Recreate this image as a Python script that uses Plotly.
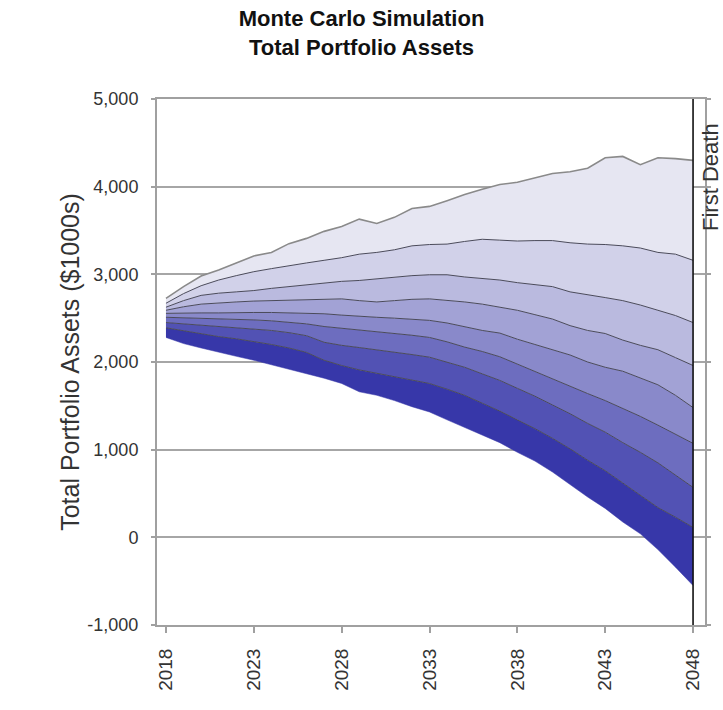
import plotly.graph_objects as go

years = list(range(2018, 2049))

# Percentile paths of simulated portfolio assets ($1000s), highest to lowest
p_top = [2725, 2860, 2980, 3050, 3130, 3210, 3250, 3350, 3410, 3490, 3545, 3630, 3580, 3650, 3750, 3775,
         3840, 3910, 3970, 4025, 4050, 4100, 4150, 4170, 4210, 4330, 4345, 4250, 4330, 4320, 4300]
p_2 = [2670, 2780, 2870, 2935, 2985, 3030, 3065, 3100, 3130, 3160, 3190, 3230, 3250, 3280, 3325, 3340,
       3345, 3375, 3400, 3390, 3380, 3385, 3385, 3360, 3345, 3340, 3325, 3300, 3250, 3230, 3160]
p_3 = [2625, 2700, 2760, 2785, 2800, 2815, 2840, 2860, 2885, 2905, 2920, 2930, 2950, 2965, 2985, 2995,
       2995, 2970, 2950, 2935, 2905, 2885, 2860, 2800, 2770, 2735, 2700, 2650, 2590, 2530, 2450]
p_4 = [2590, 2630, 2660, 2675, 2685, 2695, 2700, 2710, 2715, 2715, 2720, 2700, 2685, 2700, 2715, 2720,
       2705, 2685, 2660, 2625, 2590, 2540, 2490, 2415, 2360, 2325, 2250, 2190, 2140, 2050, 1960]
p_5 = [2555, 2560, 2560, 2560, 2565, 2565, 2565, 2560, 2555, 2550, 2535, 2520, 2510, 2500, 2485, 2475,
       2445, 2400, 2360, 2330, 2260, 2200, 2140, 2080, 2000, 1940, 1895, 1820, 1740, 1620, 1480]
p_6 = [2510, 2505, 2500, 2495, 2490, 2480, 2470, 2455, 2435, 2405, 2385, 2370, 2345, 2330, 2305, 2280,
       2230, 2170, 2120, 2060, 1975, 1890, 1810, 1720, 1640, 1560, 1470, 1380, 1280, 1180, 1072]
p_7 = [2450, 2435, 2420, 2410, 2395, 2380, 2360, 2335, 2300, 2225, 2190, 2165, 2140, 2115, 2085, 2055,
       2000, 1940, 1865, 1790, 1700, 1610, 1510, 1410, 1300, 1200, 1080, 970, 850, 710, 570]
p_8 = [2390, 2355, 2320, 2290, 2265, 2235, 2200, 2160, 2110, 2020, 1960, 1910, 1870, 1830, 1790, 1755,
       1690, 1620, 1530, 1440, 1340, 1240, 1130, 1010, 880, 760, 620, 480, 340, 230, 114]
p_bottom = [2280, 2210, 2160, 2110, 2065, 2020, 1970, 1915, 1870, 1815, 1755, 1660, 1620, 1560, 1490, 1430,
            1340, 1255, 1170, 1080, 970, 870, 745, 600, 460, 330, 175, 40, -140, -340, -550]

# Upper boundaries from darkest band to lightest band
bands = [p_8, p_7, p_6, p_5, p_4, p_3, p_2, p_top]
band_colors = ["#3737a9", "#5252b4", "#6d6dbf", "#8989ca", "#a2a2d5", "#babadf", "#d1d1e9", "#e6e6f2"]

x_ticks = [2018, 2023, 2028, 2033, 2038, 2043, 2048]
y_ticks = [-1000, 0, 1000, 2000, 3000, 4000, 5000]
y_tick_text = ["-1,000", "0", "1,000", "2,000", "3,000", "4,000", "5,000"]
first_death_year = 2048

FONT = "Liberation Sans, Arial, sans-serif"

fig = go.Figure()

fig.add_trace(go.Scatter(x=years, y=p_bottom, mode="lines",
                         line=dict(color=band_colors[0], width=0.5),
                         showlegend=False, hoverinfo="skip"))

for i, (upper, color) in enumerate(zip(bands, band_colors)):
    is_top = i == len(bands) - 1
    fig.add_trace(go.Scatter(
        x=years, y=upper, mode="lines", fill="tonexty", fillcolor=color,
        line=dict(color="#8a8a8a" if is_top else "#4a4a5a", width=1.6 if is_top else 1),
        showlegend=False, hoverinfo="skip"))

# First Death marker
fig.add_trace(go.Scatter(x=[first_death_year, first_death_year], y=[-1000, 5000], mode="lines",
                         line=dict(color="#111111", width=1.6), showlegend=False, hoverinfo="skip"))

fig.add_annotation(x=1.0, xref="paper", xanchor="left", xshift=-9,
                   y=4105, yref="y", yanchor="middle",
                   text="First Death", textangle=-90, showarrow=False,
                   font=dict(family=FONT, size=22, color="#333333"))

fig.update_layout(
    width=723, height=710,
    margin=dict(l=157, r=14, t=99, b=85),
    paper_bgcolor="white", plot_bgcolor="white",
    title=dict(text="<b>Monte Carlo Simulation<br>Total Portfolio Assets</b>",
               x=0.5, xanchor="center", y=0.963, yanchor="top",
               font=dict(family=FONT, size=22, color="#111111")),
    font=dict(family=FONT, size=18, color="#333333"),
)

fig.update_xaxes(range=[2017.49, 2048.68], tickvals=x_ticks, ticktext=[str(t) for t in x_ticks],
                 tickangle=-90, showgrid=False, zeroline=False,
                 showline=True, linecolor="#a0a0a0", linewidth=2, mirror=True,
                 ticks="outside", ticklen=6, tickcolor="#a0a0a0", tickwidth=1.5,
                 ticklabelstandoff=8,
                 tickfont=dict(size=19, color="#333333"))
fig.update_yaxes(range=[-1000, 5000], tickvals=y_ticks, ticktext=y_tick_text,
                 showgrid=True, gridcolor="#a6a6a6", gridwidth=2, zeroline=False,
                 showline=True, linecolor="#a0a0a0", linewidth=2, mirror="ticks",
                 ticks="outside", ticklen=4, tickcolor="#a0a0a0", tickwidth=1.5,
                 ticklabelstandoff=9,
                 tickfont=dict(size=18, color="#333333"),
                 title=dict(text="Total Portfolio Assets ($1000s)", standoff=1,
                            font=dict(size=25, color="#333333")))

fig.write_html("out.html")
